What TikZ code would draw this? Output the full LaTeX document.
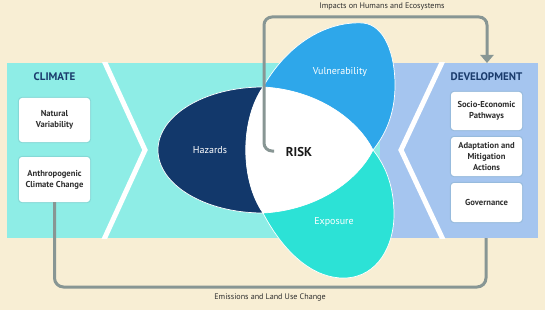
\documentclass[tikz,border=0pt]{standalone}
\usepackage{fontspec}
\setmainfont{PT Sans}
\usetikzlibrary{arrows.meta}
\definecolor{bgbeige}{HTML}{F8EED4}
\definecolor{cyanband}{HTML}{8EEDE6}
\definecolor{blueband}{HTML}{A5C5EF}
\definecolor{hazcol}{HTML}{12386B}
\definecolor{vulcol}{HTML}{2EA7EA}
\definecolor{expcol}{HTML}{2CE2D6}
\definecolor{titlecol}{HTML}{1A3B6C}
\definecolor{conncol}{HTML}{889694}
\definecolor{boxtext}{HTML}{2E2E2E}
\definecolor{halo}{HTML}{6E9FA8}
\begin{document}
\begin{tikzpicture}[x=1pt,y=-1pt,
  bandbox/.style={inner sep=0pt, outer sep=0pt, anchor=north west, minimum height=175pt},
  infobox/.style={fill=white, rounded corners=3pt, minimum width=71pt, align=center,
    inner sep=1pt, text=boxtext, font=\fontsize{8.6}{11}\selectfont\bfseries,
    preaction={draw=halo, line width=2.2pt, opacity=0.25}},
  bandtitle/.style={text=titlecol, font=\fontsize{11}{13}\selectfont\bfseries},
  petal/.style={draw=white, line width=0.7pt},
  petallabel/.style={text=white, font=\fontsize{10}{12}\selectfont},
  conn/.style={draw=conncol, line width=3pt},
  flowlabel/.style={text=boxtext, font=\fontsize{8.1}{9.5}\selectfont}]
\useasboundingbox (0,0) rectangle (545,310);
\fill[bgbeige] (0,0) rectangle (545,310);
% bands
\node[bandbox, fill=cyanband, minimum width=373pt] (climband) at (7,63) {};
\node[bandbox, fill=blueband, minimum width=158pt] (devband) at (380,63) {};
% chevrons
\begin{scope}
\clip (7,63) rectangle (538,238);
\draw[white, line width=5pt, line join=miter] (101,54) -- (145,150) -- (101,246);
\draw[white, line width=5pt, line join=miter] (446,54) -- (401,150) -- (446,246);
\end{scope}
% petals
\fill[hazcol, petal] (263,87) .. controls (205,87) and (158,115.2) .. (158,150)
  .. controls (158,184.8) and (205,213) .. (263,213)
  .. controls (240,180) and (240,120) .. (263,87) -- cycle;
\fill[vulcol, petal] (263,87) .. controls (290,40) and (330,21) .. (363,23)
  .. controls (385,25) and (395,55) .. (395,85)
  .. controls (395,115) and (385,135) .. (373,150)
  .. controls (358,120) and (318,90) .. (263,87) -- cycle;
\fill[expcol, petal] (263,213) .. controls (285,255) and (315,279) .. (345,278)
  .. controls (378,277) and (394,245) .. (394,215)
  .. controls (394,185) and (385,165) .. (373,150)
  .. controls (358,180) and (318,210) .. (263,213) -- cycle;
\fill[white] (263,87) .. controls (240,120) and (240,180) .. (263,213)
  .. controls (318,210) and (358,180) .. (373,150)
  .. controls (358,120) and (318,90) .. (263,87) -- cycle;
% titles
\node[bandtitle] (climtitle) at (54.5,77) {CLIMATE};
\node[bandtitle] (devtitle) at (486.5,77) {DEVELOPMENT};
% boxes
\node[infobox, minimum height=44pt] (natvar) at (54.5,120) {Natural\\Variability};
\node[infobox, minimum height=45pt] (anthro) at (54.5,179.5) {Anthropogenic\\Climate Change};
\node[infobox, minimum height=38pt] (socio) at (486.5,111) {Socio-Economic\\Pathways};
\node[infobox, minimum height=39pt] (adapt) at (486.5,156.5) {Adaptation and\\Mitigation\\Actions};
\node[infobox, minimum height=39pt] (gov) at (486.5,202.5) {Governance};
% connectors
\coordinate (hook) at (274,151);
\coordinate (topleft) at (264,17);
\coordinate (devtop) at (487,63);
\draw[conn, rounded corners=8pt, -{Triangle[width=13pt,length=8pt]}]
  (hook) -| (topleft) -| (devtop);
\coordinate (botright) at (486,287);
\coordinate (devbot) at (486,238);
\draw[conn, rounded corners=9pt] (anthro.south) |- (botright) -- (devbot);
% labels
\node[petallabel] (hazlabel) at (210,150) {Hazards};
\node[petallabel] (vullabel) at (340,72) {Vulnerability};
\node[petallabel] (explabel) at (334,222) {Exposure};
\node[text=black!90, font=\fontsize{12.8}{15}\selectfont\bfseries] (risk) at (299,152) {RISK};
\node[flowlabel] (impacts) at (382,6) {Impacts on Humans and Ecosystems};
\node[flowlabel] (emissions) at (270,297) {Emissions and Land Use Change};
\end{tikzpicture}
\end{document}
